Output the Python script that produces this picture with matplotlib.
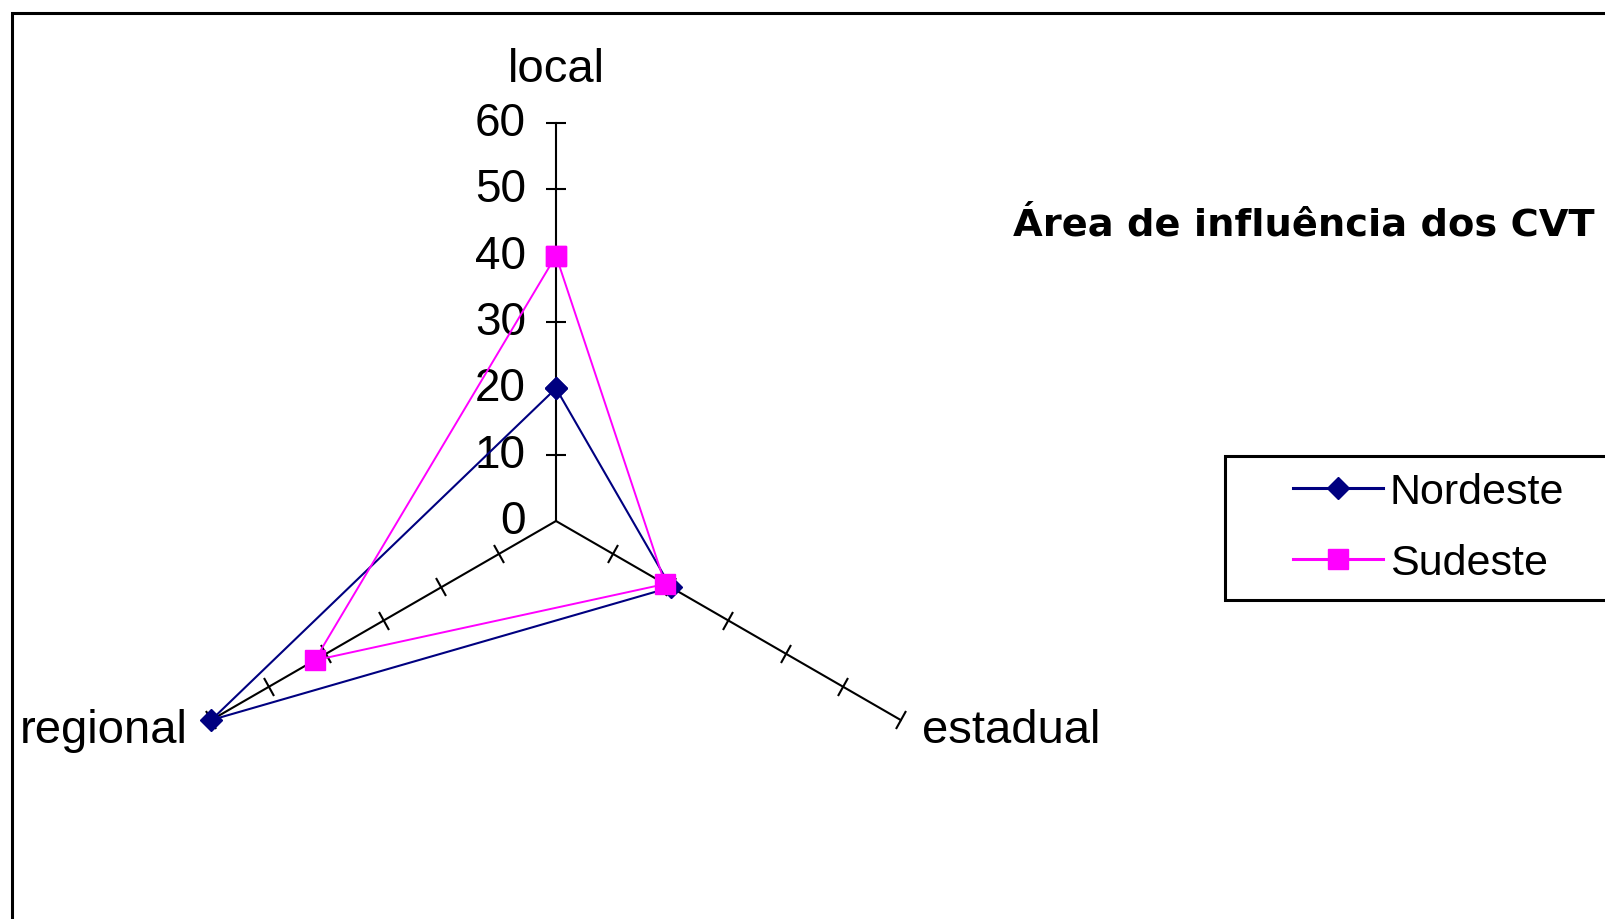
import numpy as np
import matplotlib
matplotlib.use("Agg")
import matplotlib.pyplot as plt
from matplotlib.markers import MarkerStyle
from matplotlib.transforms import Affine2D
from matplotlib.patches import Rectangle
from matplotlib.legend_handler import HandlerLine2D

plt.rcParams['font.family'] = ['Liberation Sans', 'DejaVu Sans']

# Data
categories = ["local", "estadual", "regional"]
nordeste = [20, 20, 60]
sudeste = [40, 19, 42]
series_names = ["Nordeste", "Sudeste"]
r_ticks = [0, 10, 20, 30, 40, 50, 60]
title = "Área de influência dos CVT"

NAVY = "#000080"
MAGENTA = "#FF00FF"

W, H = 1605, 920
DPI = 100
fig = plt.figure(figsize=(W / DPI, H / DPI), dpi=DPI)
fig.patch.set_facecolor("white")

# Radar axes: centre and radius in pixels
cx, cy, R = 556, 522, 398
ax = fig.add_axes([(cx - R) / W, (H - cy - R) / H, 2 * R / W, 2 * R / H],
                  projection="polar")
ax.set_theta_zero_location("N")
ax.set_theta_direction(-1)
ax.set_ylim(0, r_ticks[-1])
ax.grid(False)
ax.spines["polar"].set_visible(False)
ax.set_xticks([])
ax.set_yticks([])
ax.patch.set_alpha(0)

n = len(categories)
thetas = np.arange(n) * 2 * np.pi / n
screen_angles = 90 - np.degrees(thetas)  # on-screen direction of each spoke

# Spokes with perpendicular tick marks
for th, ang in zip(thetas, screen_angles):
    ax.plot([th, th], [0, r_ticks[-1]], color="black", lw=1.5, zorder=2,
            clip_on=False)
    tick_marker = MarkerStyle("|", transform=Affine2D().rotate_deg(ang))
    ax.plot([th] * (len(r_ticks) - 1), r_ticks[1:], linestyle="none",
            marker=tick_marker, markersize=15, markeredgewidth=1.5,
            color="black", zorder=2, clip_on=False)

# Radial value labels along the "local" spoke
for r in r_ticks:
    ax.annotate(str(r), xy=(thetas[0], r), xytext=(-30, 0),
                textcoords="offset pixels", ha="right", va="center",
                fontsize=33, color="black", annotation_clip=False)

# Category labels
ax.annotate(categories[0], xy=(thetas[0], r_ticks[-1]), xytext=(0, 54),
            textcoords="offset pixels", ha="center", va="center",
            fontsize=34, annotation_clip=False)
ax.annotate(categories[1], xy=(thetas[1], r_ticks[-1]), xytext=(21, -22),
            textcoords="offset pixels", ha="left", va="baseline",
            fontsize=34, annotation_clip=False)
ax.annotate(categories[2], xy=(thetas[2], r_ticks[-1]), xytext=(-24, -22),
            textcoords="offset pixels", ha="right", va="baseline",
            fontsize=34, annotation_clip=False)

# Series
closed_t = np.append(thetas, thetas[0])
l1, = ax.plot(closed_t, nordeste + nordeste[:1], color=NAVY, lw=1.5,
              marker="D", markersize=11, markerfacecolor=NAVY,
              markeredgecolor=NAVY, zorder=4, clip_on=False,
              label=series_names[0])
l2, = ax.plot(closed_t, sudeste + sudeste[:1], color=MAGENTA, lw=1.4,
              marker="s", markersize=14, markerfacecolor=MAGENTA,
              markeredgecolor=MAGENTA, zorder=5, clip_on=False,
              label=series_names[1])

# Title
fig.text(1013 / W, 1 - 235 / H, title, fontsize=27.6, fontweight="bold",
         family="DejaVu Sans", ha="left", va="baseline")

# Legend
handler = HandlerLine2D(xpad=1.21)
leg = fig.legend(handles=[l1, l2], loc="upper left",
                 bbox_to_anchor=(1225 / W, 1 - 601 / H, 500 / W, 144 / H),
                 bbox_transform=fig.transFigure, mode="expand",
                 borderaxespad=0, fancybox=False, framealpha=1,
                 edgecolor="black", fontsize=31, handlelength=3.3,
                 handletextpad=0.15, borderpad=0.38, labelspacing=0.72,
                 numpoints=1, handler_map={l1: handler, l2: handler})
leg.get_frame().set_linewidth(2.2)
for h in leg.legend_handles:
    h.set_linewidth(2.2)

# Chart area border
fig.add_artist(Rectangle((11.5 / W, -0.1), 1.2, 1.1 - 13.5 / H,
                         transform=fig.transFigure, fill=False,
                         edgecolor="black", lw=2.2, clip_on=False))

fig.savefig("out.png", dpi=DPI, facecolor="white")
